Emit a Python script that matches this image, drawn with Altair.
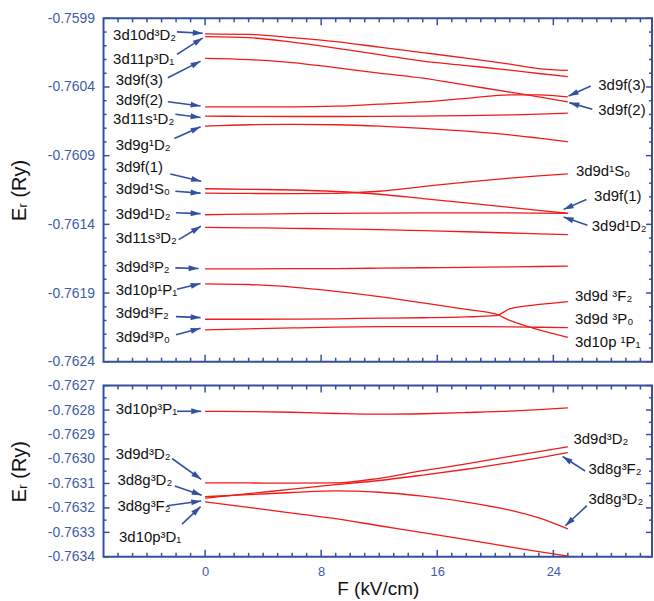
import math
import altair as alt
import pandas as pd

# ---------------- data ----------------
# field strength grids, kV/cm
F_GRID = [0, 3, 6, 9, 12, 15, 18, 21, 23, 25]
F_FINE = [0, 3, 6, 9, 12, 15, 18, 20, 21, 22, 23, 24, 25]

# upper panel energies, Ry
E_3d10d3D2 = [-0.760014, -0.760017, -0.760041, -0.760070, -0.760110, -0.760150, -0.760190, -0.760234, -0.760266, -0.760279]
E_3d11p3D1 = [-0.760033, -0.760041, -0.760074, -0.760117, -0.760164, -0.760212, -0.760244, -0.760277, -0.760302, -0.760325]
E_3d9f3 = [-0.760192, -0.760201, -0.760222, -0.760259, -0.760299, -0.760335, -0.760386, -0.760438, -0.760472, -0.760509]
E_3d9f2 = [-0.760545, -0.760545, -0.760545, -0.760540, -0.760525, -0.760509, -0.760483, -0.760457, -0.760457, -0.760472]
E_3d11s1D2 = [-0.760612, -0.760614, -0.760615, -0.760615, -0.760614, -0.760612, -0.760609, -0.760603, -0.760598, -0.760591]
E_3d9g1D2 = [-0.760685, -0.760675, -0.760672, -0.760675, -0.760685, -0.760701, -0.760722, -0.760748, -0.760773, -0.760799]
E_3d9f1 = [-0.761141, -0.761145, -0.761150, -0.761161, -0.761181, -0.761212, -0.761244, -0.761277, -0.761299, -0.761320]
E_3d9d1S0 = [-0.761173, -0.761175, -0.761177, -0.761174, -0.761159, -0.761125, -0.761092, -0.761063, -0.761047, -0.761033]
E_3d9d1D2 = [-0.761330, -0.761326, -0.761322, -0.761320, -0.761318, -0.761317, -0.761317, -0.761317, -0.761318, -0.761320]
E_3d11s3D2 = [-0.761422, -0.761425, -0.761429, -0.761433, -0.761438, -0.761446, -0.761454, -0.761463, -0.761469, -0.761475]
E_3d9d3P2 = [-0.761724, -0.761724, -0.761723, -0.761722, -0.761719, -0.761716, -0.761713, -0.761710, -0.761707, -0.761704]
E_3d10p1P1 = [-0.761833, -0.761838, -0.761857, -0.761888, -0.761926, -0.761972, -0.762019, -0.762052, -0.762099, -0.762136, -0.762168, -0.762196, -0.762223]
E_3d9d3F2 = [-0.762091, -0.762091, -0.762090, -0.762088, -0.762083, -0.762080, -0.762074, -0.762065, -0.762016, -0.761996, -0.761983, -0.761973, -0.761962]
E_3d9d3P0 = [-0.762168, -0.762161, -0.762154, -0.762148, -0.762145, -0.762144, -0.762144, -0.762146, -0.762149, -0.762152]

# lower panel energies, Ry
E_3d10p3P1 = [-0.762805, -0.762806, -0.762809, -0.762814, -0.762817, -0.762815, -0.762810, -0.762804, -0.762798, -0.762791]
E_3d9d3D2 = [-0.763098, -0.763098, -0.763099, -0.763098, -0.763079, -0.763048, -0.763020, -0.762989, -0.762970, -0.762950]
E_3d8g3F2 = [-0.763160, -0.763142, -0.763123, -0.763105, -0.763088, -0.763066, -0.763042, -0.763015, -0.762995, -0.762974]
E_3d8g3D2 = [-0.763154, -0.763146, -0.763137, -0.763130, -0.763136, -0.763152, -0.763176, -0.763209, -0.763241, -0.763286]
E_3d10p3D1 = [-0.763175, -0.763198, -0.763221, -0.763244, -0.763273, -0.763301, -0.763330, -0.763359, -0.763379, -0.763397]

TOP_LEVELS = [
    ("3d10d3D2", F_GRID, E_3d10d3D2), ("3d11p3D1", F_GRID, E_3d11p3D1),
    ("3d9f(3)", F_GRID, E_3d9f3), ("3d9f(2)", F_GRID, E_3d9f2),
    ("3d11s1D2", F_GRID, E_3d11s1D2), ("3d9g1D2", F_GRID, E_3d9g1D2),
    ("3d9f(1)", F_GRID, E_3d9f1), ("3d9d1S0", F_GRID, E_3d9d1S0),
    ("3d9d1D2", F_GRID, E_3d9d1D2), ("3d11s3D2", F_GRID, E_3d11s3D2),
    ("3d9d3P2", F_GRID, E_3d9d3P2), ("3d10p1P1", F_FINE, E_3d10p1P1),
    ("3d9d3F2", F_FINE, E_3d9d3F2), ("3d9d3P0", F_GRID, E_3d9d3P0),
]
BOT_LEVELS = [
    ("3d10p3P1", F_GRID, E_3d10p3P1), ("3d9d3D2", F_GRID, E_3d9d3D2),
    ("3d8g3F2", F_GRID, E_3d8g3F2), ("3d8g3D2", F_GRID, E_3d8g3D2),
    ("3d10p3D1", F_GRID, E_3d10p3D1),
]

# level labels: text, F, E (baseline position)
TOP_LABELS = [
    ("3d10d³D₂", -6.34, -0.760059), ("3d11p³D₁", -6.34, -0.760236),
    ("3d9f(3)", -6.16, -0.760386), ("3d9f(2)", -6.16, -0.760530),
    ("3d11s¹D₂", -6.34, -0.760670), ("3d9g¹D₂", -6.16, -0.760857),
    ("3d9f(1)", -6.16, -0.761021), ("3d9d¹S₀", -6.16, -0.761181),
    ("3d9d¹D₂", -6.16, -0.761359), ("3d11s³D₂", -6.16, -0.761536),
    ("3d9d³P₂", -6.16, -0.761750), ("3d10p¹P₁", -6.16, -0.761915),
    ("3d9d³F₂", -6.16, -0.762079), ("3d9d³P₀", -6.16, -0.762257),
    ("3d9f(3)", 27.10, -0.760424), ("3d9f(2)", 27.10, -0.760603),
    ("3d9d¹S₀", 25.56, -0.761050), ("3d9f(1)", 26.81, -0.761233),
    ("3d9d¹D₂", 26.65, -0.761449), ("3d9d ³F₂", 25.49, -0.761956),
    ("3d9d ³P₀", 25.49, -0.762127), ("3d10p ¹P₁", 25.49, -0.762296),
]
BOT_LABELS = [
    ("3d10p³P₁", -6.16, -0.762818), ("3d9d³D₂", -6.16, -0.763001),
    ("3d8g³D₂", -6.04, -0.763106), ("3d8g³F₂", -6.04, -0.763214),
    ("3d10p³D₁", -5.93, -0.763340),
    ("3d9d³D₂", 25.39, -0.762940), ("3d8g³F₂", 26.42, -0.763062),
    ("3d8g³D₂", 26.42, -0.763184),
]

# arrows: tail F, tail E, head F, head E
TOP_ARROWS = [
    (-1.94, -0.759999, -0.16, -0.760009), (-1.94, -0.760163, -0.16, -0.760043),
    (-2.57, -0.760333, -0.31, -0.760212), (-2.57, -0.760507, -0.31, -0.760538),
    (-2.05, -0.760598, -0.31, -0.760622), (-2.12, -0.760775, -0.31, -0.760690),
    (-2.40, -0.761033, -0.27, -0.761086), (-2.05, -0.761159, -0.31, -0.761173),
    (-2.01, -0.761315, -0.31, -0.761322), (-1.82, -0.761511, -0.29, -0.761414),
    (-2.05, -0.761717, -0.45, -0.761721), (-1.94, -0.761873, -0.31, -0.761830),
    (-2.01, -0.762072, -0.31, -0.762079), (-2.01, -0.762204, -0.31, -0.762156),
    (26.58, -0.760393, 25.05, -0.760465), (26.69, -0.760562, 25.10, -0.760514),
    (26.28, -0.761219, 24.71, -0.761291), (26.35, -0.761407, 24.71, -0.761347),
]
BOT_ARROWS = [
    (-1.94, -0.762805, -0.27, -0.762805), (-2.28, -0.762998, -0.27, -0.763083),
    (-2.09, -0.763110, -0.23, -0.763148), (-2.62, -0.763191, -0.27, -0.763172),
    (-1.59, -0.763266, -0.31, -0.763195),
    (26.19, -0.763049, 24.64, -0.762990), (26.31, -0.763191, 24.83, -0.763273),
]

X_MAJOR = [0, 8, 16, 24]
X_MINOR = [v for v in range(-6, 31) if v not in X_MAJOR]
Y_TOP_MAJOR = [-0.7599, -0.7604, -0.7609, -0.7614, -0.7619, -0.7624]
Y_TOP_MINOR = [round(-0.7599 - k * 0.0001, 4) for k in range(1, 25) if k % 5]
Y_BOT_MAJOR = [-0.7627, -0.7628, -0.7629, -0.7630, -0.7631, -0.7632, -0.7633, -0.7634]
Y_BOT_MINOR = [round(-0.76265 - k * 0.0001, 5) for k in range(1, 7)]

# ---------------- styling ----------------
W = 551
H_TOP = 345
H_BOT = 172
X_DOMAIN = [-7, 30.8]
TOP_DOMAIN = [-0.7624, -0.7599]
BOT_DOMAIN = [-0.7634, -0.7627]
RED = "#f01a1a"
AXC = "#3450a0"
LBC = "#3f5cab"
FONT = "Liberation Sans, Arial, DejaVu Sans"
ARROW_PATH = "M0,0L0.6,2L-0.6,2Z"


def level_frame(levels):
    rows = []
    for name, fs, es in levels:
        for f, e in zip(fs, es):
            rows.append({"s": name, "F": f, "E": e})
    return pd.DataFrame(rows)


def panel(levels, labels, arrows, ydom, h, ymaj, ymin, xaxis):
    xs = alt.Scale(domain=X_DOMAIN, nice=False, zero=False)
    ys = alt.Scale(domain=ydom, nice=False, zero=False)
    yaxis = alt.Axis(values=ymaj, format=".4f", title="Eᵣ (Ry)",
                     labelExpr="replace(datum.label, '\u2212', '-')")

    def X(field):
        return alt.X(field, type="quantitative", scale=xs, axis=xaxis)

    def Y(field):
        return alt.Y(field, type="quantitative", scale=ys, axis=yaxis)

    lines = alt.Chart(level_frame(levels)).mark_line(
        color=RED, strokeWidth=1.3, interpolate="monotone"
    ).encode(x=X("F"), y=Y("E"), detail="s:N")

    lab_df = pd.DataFrame(labels, columns=["t", "F", "E"])
    texts = alt.Chart(lab_df).mark_text(
        align="left", baseline="alphabetic", font=FONT, fontSize=15, color="#111111"
    ).encode(x=X("F"), y=Y("E"), text="t:N")

    px_f = W / (X_DOMAIN[1] - X_DOMAIN[0])
    px_e = h / (ydom[1] - ydom[0])
    arr = []
    for tf, te, hf, he in arrows:
        dx = (hf - tf) * px_f
        dy = -(he - te) * px_e
        ang = math.degrees(math.atan2(dx, -dy)) % 360
        arr.append({"F": tf, "E": te, "F2": hf, "E2": he, "ang": ang})
    arr_df = pd.DataFrame(arr)
    shafts = alt.Chart(arr_df).mark_rule(color=AXC, strokeWidth=1.6).encode(
        x=X("F"), y=Y("E"), x2="F2:Q", y2="E2:Q")
    heads = alt.Chart(arr_df).mark_point(
        shape=ARROW_PATH, filled=True, size=100, color=AXC, opacity=1, strokeWidth=0
    ).encode(x=X("F2"), y=Y("E2"), angle=alt.Angle("ang:Q", scale=None))

    layers = [lines, shafts, heads, texts]
    for vals, ln in [(X_MAJOR, 7), (X_MINOR, 4)]:
        d = pd.DataFrame({"t": vals})
        layers.append(alt.Chart(d).mark_rule(color=AXC, strokeWidth=1.5).encode(
            x=X("t"), y=alt.value(h), y2=alt.value(h - ln)))
        layers.append(alt.Chart(d).mark_rule(color=AXC, strokeWidth=1.5).encode(
            x=X("t"), y=alt.value(0), y2=alt.value(ln)))
    for vals, ln in [(ymaj, 6), (ymin, 3)]:
        d = pd.DataFrame({"t": vals})
        layers.append(alt.Chart(d).mark_rule(color=AXC, strokeWidth=1.5).encode(
            y=Y("t"), x=alt.value(0), x2=alt.value(ln)))
        layers.append(alt.Chart(d).mark_rule(color=AXC, strokeWidth=1.5).encode(
            y=Y("t"), x=alt.value(W), x2=alt.value(W - ln)))
    return alt.layer(*layers).properties(width=W, height=h)


top = panel(TOP_LEVELS, TOP_LABELS, TOP_ARROWS, TOP_DOMAIN, H_TOP,
            Y_TOP_MAJOR, Y_TOP_MINOR, None)
bottom_xaxis = alt.Axis(values=X_MAJOR, format="d", title="F (kV/cm)",
                        titleFontSize=19, titlePadding=1)
bottom = panel(BOT_LEVELS, BOT_LABELS, BOT_ARROWS, BOT_DOMAIN, H_BOT,
               Y_BOT_MAJOR, Y_BOT_MINOR, bottom_xaxis)

chart = alt.vconcat(top, bottom, spacing=24, bounds="flush").properties(
    padding={"left": 8, "top": 9, "right": 0, "bottom": 0}
).configure_view(
    stroke=AXC, strokeWidth=2
).configure_axis(
    domain=False, ticks=False, tickSize=0, grid=False,
    labelFont=FONT, labelFontSize=14, labelColor=LBC, labelPadding=9,
    titleFont=FONT, titleFontSize=20, titleFontWeight="normal",
    titleColor="#111111", titlePadding=18
).configure_axisX(labelFontSize=13, titlePadding=1)

chart.save("out.html", embed_options={"renderer": "svg", "actions": False})
